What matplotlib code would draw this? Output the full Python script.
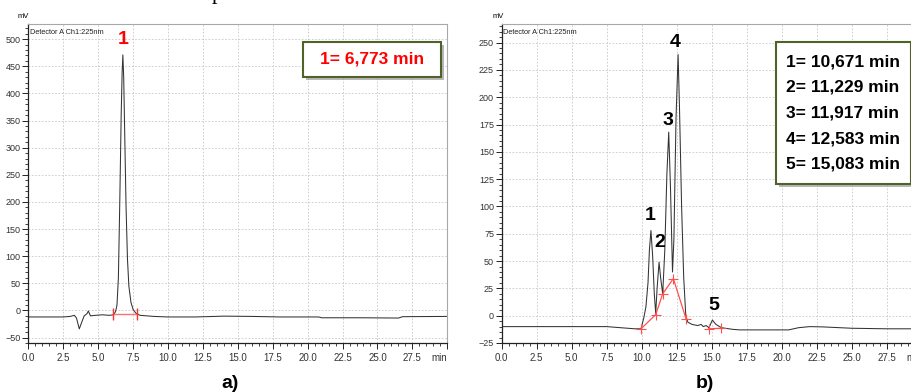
import matplotlib
matplotlib.use('Agg')
import matplotlib.pyplot as plt
from matplotlib import font_manager
from matplotlib.patches import Rectangle
from matplotlib.ticker import MultipleLocator

# 字型：優先用窄體
names = {f.name for f in font_manager.fontManager.ttflist}
narrow = 'Liberation Sans Narrow' if 'Liberation Sans Narrow' in names else 'Liberation Sans'

# a) 單一峰
time_a = [0.0, 2.5, 3.0, 3.3, 3.45, 3.65, 3.85, 4.0, 4.2, 4.3, 4.45, 4.8, 5.3, 5.8,
          6.1, 6.25, 6.35, 6.45, 6.55, 6.65, 6.72, 6.77, 6.83, 6.9, 7.0, 7.1, 7.2,
          7.35, 7.5, 7.7, 8.0, 9.0, 10.0, 12.0, 14.0, 16.0, 18.0, 20.8, 21.0, 24.0,
          26.5, 26.8, 30.0]
mv_a = [-12, -12, -11, -9, -14, -34, -20, -10, -6, -1, -10, -9, -8, -9,
        -8, -2, 10, 60, 200, 360, 440, 471, 430, 330, 190, 95, 45,
        15, 2, -5, -9, -11, -12, -12, -10.5, -11, -12, -12, -13.5, -13.5,
        -14, -11.5, -11]
integ_a_t = [6.1, 7.75]
integ_a_mv = [-6, -6]
peak_a_t = [6.773]
peak_a_lab = ['1']
peak_a_y = [499]
box_a = ['1= 6,773 min']

# b) 五個峰
time_b = [0.0, 7.5, 8.5, 9.5, 9.95, 10.15, 10.3, 10.45, 10.55, 10.66, 10.78, 10.9,
          11.0, 11.1, 11.24, 11.35, 11.5, 11.65, 11.8, 11.93, 12.05, 12.2, 12.3,
          12.45, 12.6, 12.7, 12.85, 13.0, 13.15, 13.3, 13.6, 14.0, 14.25, 14.4,
          14.6, 14.8, 15.05, 15.3, 15.7, 16.5, 17.0, 20.5, 21.2, 22.0, 23.0,
          25.0, 27.5, 30.0]
mv_b = [-10, -10, -11, -12, -12, -2, 8, 30, 60, 78, 55, 20,
        2, 25, 49, 35, 20, 60, 130, 168, 120, 40, 70,
        180, 239, 190, 100, 35, 0, -6, -8, -9, -8, -10,
        -9, -11, -4, -8, -11, -12.5, -13, -13, -11, -10, -10.3,
        -11.5, -12, -12]
integ_b1_t = [9.95, 11.0, 11.5, 12.26, 13.17]
integ_b1_mv = [-12, 1, 20, 34, -3]
integ_b2_t = [14.78, 15.7]
integ_b2_mv = [-12, -11.5]
peak_b_t = [10.6, 11.3, 11.84, 12.38, 15.17]
peak_b_y = [92, 67, 179, 250, 9]
peak_b_lab = ['1', '2', '3', '4', '5']
box_b = ['1= 10,671 min', '2= 11,229 min', '3= 11,917 min',
         '4= 12,583 min', '5= 15,083 min']

W, H = 912, 392
fig = plt.figure(figsize=(W / 100, H / 100), dpi=100)


def px(x, y):
    return x / W, 1 - y / H


def setup(ax, ylim, ystep, yminor):
    ax.set_xlim(0, 30)
    ax.set_ylim(*ylim)
    ax.xaxis.set_major_locator(MultipleLocator(2.5))
    ax.xaxis.set_minor_locator(MultipleLocator(0.5))
    ax.yaxis.set_major_locator(MultipleLocator(ystep))
    ax.yaxis.set_minor_locator(MultipleLocator(yminor))
    ax.grid(True, which='major', color='#c8c8c8', linestyle=(0, (2, 2)), linewidth=0.6)
    ax.set_axisbelow(True)
    for s in ['top', 'right']:
        ax.spines[s].set_color('#a8a8a8')
    for s in ['left', 'bottom']:
        ax.spines[s].set_color('#222222')
        ax.spines[s].set_linewidth(0.9)
    ax.tick_params(which='major', direction='out', length=4, width=0.7, colors='#222222',
                   pad=2)
    ax.tick_params(which='minor', direction='out', length=2, width=0.6, colors='#222222')
    ax.tick_params(axis='x', pad=3, labelsize=7)
    ax.tick_params(axis='y', pad=1.5, labelsize=6.5)
    ticks = [i * 2.5 for i in range(13)]
    ax.set_xticks(ticks)
    ax.set_xticklabels([f'{t:.1f}' for t in ticks[:-1]] + ['min'])
    ax.get_xticklabels()[-1].set_horizontalalignment('right')
    for lab in ax.get_xticklabels() + ax.get_yticklabels():
        lab.set_family(narrow)
        lab.set_color('#333333')
    ax.text(0.003, 0.985, 'Detector A Ch1:225nm', transform=ax.transAxes, fontsize=5.3,
            family=narrow, va='top', ha='left', color='#222222')


# 左圖
ax1 = fig.add_axes([28.3 / W, 1 - 343 / H, 419 / W, 319 / H])
setup(ax1, (-60, 528), 50, 10)
ax1.plot(time_a, mv_a, color='#333333', linewidth=0.75)
ax1.plot(integ_a_t, integ_a_mv, color='#ff7070', linewidth=1.0, marker='|',
         markersize=8, markeredgecolor='#ff3030')
for t, y, lab in zip(peak_a_t, peak_a_y, peak_a_lab):
    ax1.text(t, y, lab, color='red', fontsize=14, fontweight='bold', family=narrow,
             ha='center', va='center')

# 右圖（右側超出畫面）
ax2 = fig.add_axes([501.7 / W, 1 - 343 / H, 420 / W, 319 / H])
setup(ax2, (-25, 267), 25, 5)
ax2.plot(time_b, mv_b, color='#333333', linewidth=0.75)
ax2.plot(integ_b1_t, integ_b1_mv, color='#ff5050', linewidth=0.9, marker='+',
         markersize=7, markeredgewidth=0.8)
ax2.plot(integ_b2_t, integ_b2_mv, color='#ff5050', linewidth=0.9, marker='+',
         markersize=7, markeredgewidth=0.8)
for t, y, lab in zip(peak_b_t, peak_b_y, peak_b_lab):
    ax2.text(t, y, lab, color='black', fontsize=14, fontweight='bold', family=narrow,
             ha='center', va='center')

# mV 標示
fig.text(*px(23, 17), 'mV', fontsize=5.5, family=narrow, ha='center', va='center')
fig.text(*px(498, 17), 'mV', fontsize=5.5, family=narrow, ha='center', va='center')


# 方框（含陰影）
def box(x0, y0, x1, y1):
    sx, sy = px(x0 + 3, y1 + 3)
    fig.add_artist(Rectangle((sx, sy), (x1 - x0) / W, (y1 - y0) / H, transform=fig.transFigure,
                             facecolor='#9a9a9a', edgecolor='none', alpha=0.7, zorder=5))
    bx, by = px(x0, y1)
    fig.add_artist(Rectangle((bx, by), (x1 - x0) / W, (y1 - y0) / H, transform=fig.transFigure,
                             facecolor='white', edgecolor='#4f6228', linewidth=1.5, zorder=6))


box(303, 42, 441, 77)
fig.text(*px(372, 59.5), box_a[0], color='red', fontsize=12.5, fontweight='bold',
         family=narrow, ha='center', va='center', zorder=7)

box(776, 42, 911, 184)
for i, s in enumerate(box_b):
    fig.text(*px(786, 62 + i * 25.5), s, color='black', fontsize=12.5, fontweight='bold',
             family=narrow, ha='left', va='center', zorder=7)

# 子圖標籤
fig.text(*px(230, 383), 'a)', fontsize=14, fontweight='bold', ha='center', va='center',
         family='Liberation Sans')
fig.text(*px(705, 383), 'b)', fontsize=14, fontweight='bold', ha='center', va='center',
         family='Liberation Sans')

# 上方被切掉的文字（原圖即如此）
fig.text(217 / W, 1.003, 'p', fontsize=16, family='Liberation Serif', ha='center',
         va='baseline')

fig.savefig('out.png', dpi=100)
